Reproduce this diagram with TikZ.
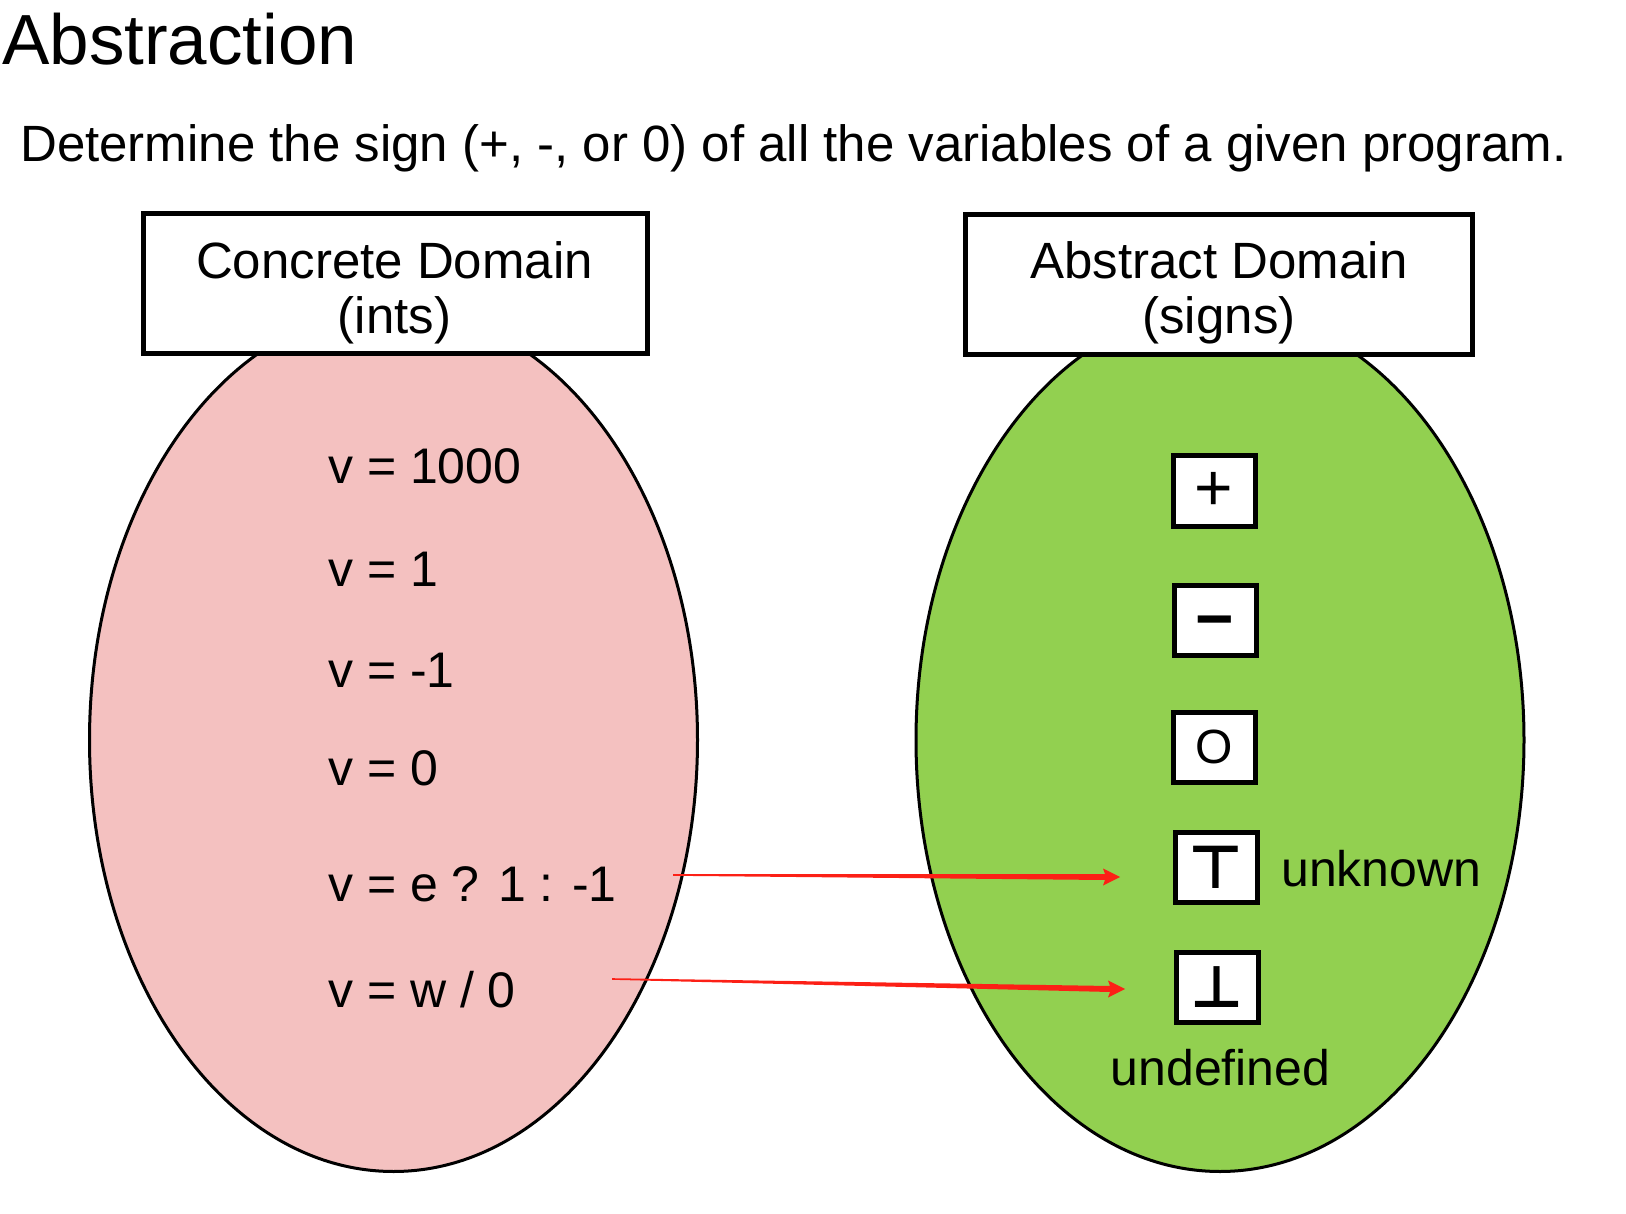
\documentclass[tikz,border=0pt]{standalone}
\usepackage{fontspec}
\setmainfont{Liberation Sans}
\newfontfamily\symfont{DejaVu Sans}
\usetikzlibrary{shapes.geometric,calc}
\definecolor{ovalpink}{RGB}{244,193,192}
\definecolor{ovalgreen}{RGB}{146,208,80}
\definecolor{arrowred}{RGB}{252,32,22}
\tikzset{
  oval/.style={ellipse,draw,line width=3pt,inner sep=0pt,
    minimum width=608pt,minimum height=863pt},
  headbox/.style={draw,fill=white,line width=5pt,inner sep=0pt,
    minimum width=504pt,minimum height=140pt},
  headtext/.style={anchor=base,inner sep=0pt,font=\fontsize{51}{55}\selectfont},
  valtext/.style={anchor=base west,inner sep=0pt,font=\fontsize{50}{55}\selectfont},
  signbox/.style={draw,fill=white,line width=5pt,inner sep=0pt,
    minimum width=82pt,minimum height=70pt,font=\fontsize{48}{55}\selectfont}
}
\begin{document}
\begin{tikzpicture}[x=1pt,y=-1pt]
\useasboundingbox (0,0) rectangle (1626,1214);
\node[anchor=base west,inner sep=0pt,font=\fontsize{71}{80}\selectfont] (title) at (2,64.5) {Abstraction};
\node[anchor=base west,inner sep=0pt,font=\fontsize{51}{60}\selectfont] (task) at (20,162)
  {Determine the sign (+, -, or 0) of all the variables of a given program.};
% the two domains
\node[oval,fill=ovalpink] (ints) at (393.5,740) {};
\node[oval,fill=ovalgreen] (signs) at (1220,740) {};
\node[headbox] (concbox) at (395.5,284) {};
\node[headtext] (conc) at (394.5,279) {Concrete Domain};
\node[headtext] (concsub) at (394.5,334) {(ints)};
\node[headbox,minimum width=507pt] (absbox) at (1219,284.5) {};
\node[headtext] (abs) at (1219,279) {Abstract Domain};
\node[headtext] (abssub) at (1219,334) {(signs)};
% concrete values
\foreach \y/\v [count=\i] in {484/{v = 1000},586/{v = 1},687/{v = -1},785/{v = 0},
    901/{v = e ? 1 : -1},1007/{v = w / 0}}
  \node[valtext] (v\i) at (328,\y) {\v};
% abstract values
\foreach \x/\y/\s/\n in {1214/491/{\fontsize{66}{66}\selectfont +}/splus,
    1215/620/{\fontsize{66}{66}\selectfont\bfseries\vphantom{+}\raisebox{-5pt}{−}}/sminus,
    1214/747/O/szero,
    1216/867.5/{\fontsize{60}{60}\selectfont\symfont\bfseries ⊤}/stop,
    1217/987.5/{\fontsize{58}{60}\selectfont\symfont\bfseries ⊥}/sbot}
  \node[signbox] (\n) at (\x,\y) {\s};
\node[valtext] (unknown) at (1281,886) {unknown};
\node[headtext,font=\fontsize{50}{55}\selectfont] (undefined) at (1220.5,1085) {undefined};
% mapping arrows
\coordinate (a1s) at (673,875);
\coordinate (a1e) at (1120,877);
\coordinate (a2s) at (612,979);
\coordinate (a2e) at (1125,989);
\foreach \a in {a1,a2}
  \fill[arrowred] ($(\a s)+(0,-0.8)$) -- ($(\a e)+(-15,-3)$) -- ($(\a e)+(-17,-8.5)$) -- (\a e)
    -- ($(\a e)+(-17,8.5)$) -- ($(\a e)+(-15,3)$) -- ($(\a s)+(0,0.8)$) -- cycle;
\end{tikzpicture}
\end{document}
